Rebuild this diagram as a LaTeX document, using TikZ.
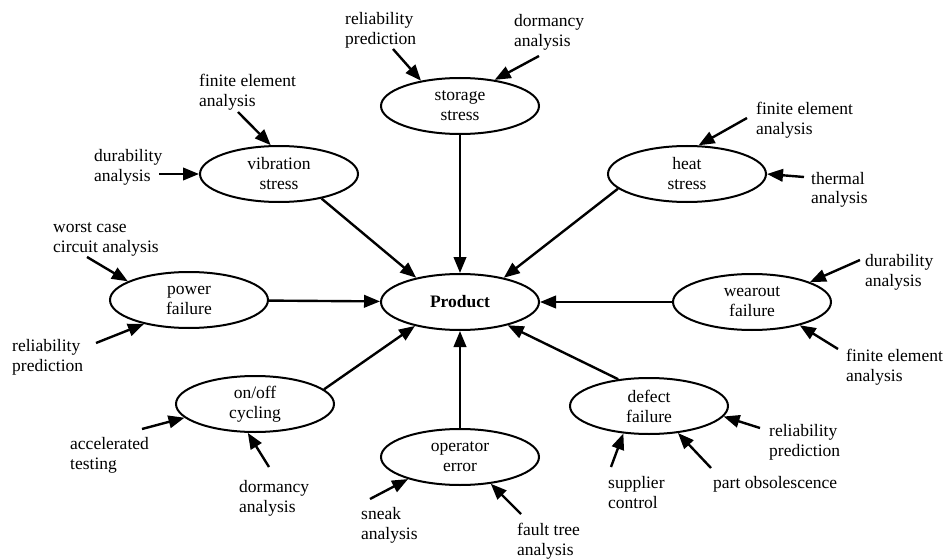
\documentclass[tikz,border=0pt]{standalone}
\usepackage{fontspec}
\setmainfont{Liberation Serif}
\usetikzlibrary{shapes.geometric,arrows.meta}
\tikzset{
  txt/.style={font=\fontsize{17.5}{20}\selectfont},
  cause/.style={txt, ellipse, draw, line width=2pt, minimum width=158pt,
    minimum height=56pt, inner sep=0pt, align=center},
  tech/.style={txt, anchor=base west, inner sep=0pt, align=left},
  link/.style={line width=2.4pt, -{Triangle[length=16pt,width=12.5pt]}}
}
\begin{document}
\begin{tikzpicture}[x=1pt,y=-1pt]
\useasboundingbox (0,0) rectangle (948,559);

% hazards and the product
\node[cause] (product)  at (460,302) {\textbf{Product}};
\node[cause] (storage)  at (460,106) {storage\\stress};
\node[cause] (vibration) at (279,174) {vibration\\stress};
\node[cause] (heat)     at (687,174) {heat\\stress};
\node[cause] (power)    at (189,300) {power\\failure};
\node[cause] (wearout)  at (752,302) {wearout\\failure};
\node[cause] (onoff)    at (255,404) {on/off\\cycling};
\node[cause] (operator) at (460,457) {operator\\error};
\node[cause] (defect)   at (649,406) {defect\\failure};

% analysis techniques (placed by the baseline of their last line)
\node[tech] (rpTop)    at (345,45)  {reliability\\prediction};
\node[tech] (dormTop)  at (514,47)  {dormancy\\analysis};
\node[tech] (feaVib)   at (199,107) {finite element\\analysis};
\node[tech] (durLeft)  at (94,182)  {durability\\analysis};
\node[tech] (worst)    at (53,252)  {worst case\\circuit analysis};
\node[tech] (rpLeft)   at (12,371)  {reliability\\prediction};
\node[tech] (accel)    at (70,469)  {accelerated\\testing};
\node[tech] (dormBot)  at (239,512) {dormancy\\analysis};
\node[tech] (sneak)    at (361,539) {sneak\\analysis};
\node[tech] (fault)    at (517,555) {fault tree\\analysis};
\node[tech] (supplier) at (608,508) {supplier\\control};
\node[tech] (obsol)    at (713,488) {part obsolescence};
\node[tech] (rpDef)    at (769,456) {reliability\\prediction};
\node[tech] (feaWear)  at (846,381) {finite element\\analysis};
\node[tech] (durRight) at (865,286) {durability\\analysis};
\node[tech] (thermal)  at (811,204) {thermal\\analysis};
\node[tech] (feaHeat)  at (756,135) {finite element\\analysis};

% arrow tails next to the technique labels
\coordinate (tRpTop)    at (393,49);
\coordinate (tDormTop)  at (539,56);
\coordinate (tFeaVib)   at (238,112);
\coordinate (tDurLeft)  at (159,174);
\coordinate (tWorst)    at (87,257);
\coordinate (tRpLeft)   at (96,343);
\coordinate (tAccel)    at (142,429);
\coordinate (tDormBot)  at (269,467);
\coordinate (tSneak)    at (370,499);
\coordinate (tFault)    at (521,514);
\coordinate (tSupplier) at (611,467);
\coordinate (tObsol)    at (711,468);
\coordinate (tRpDef)    at (760,428);
\coordinate (tFeaWear)  at (838,349);
\coordinate (tDurRight) at (860,260);
\coordinate (tThermal)  at (804,177);
\coordinate (tFeaHeat)  at (747,118);

% techniques -> hazards
\draw[link] (tRpTop)    -- (storage.147);
\draw[link] (tDormTop)  -- (storage.37);
\draw[link] (tFeaVib)   -- (vibration.106);
\draw[link] (tDurLeft)  -- (vibration.west);
\draw[link] (tWorst)    -- (power.163);
\draw[link] (tRpLeft)   -- (power.208);
\draw[link] (tAccel)    -- (onoff.191);
\draw[link] (tDormBot)  -- (onoff.256);
\draw[link] (tSneak)    -- (operator.203);
\draw[link] (tFault)    -- (operator.-41);
\draw[link] (tSupplier) -- (defect.227);
\draw[link] (tObsol)    -- (defect.-43);
\draw[link] (tRpDef)    -- (defect.-8);
\draw[link] (tFeaWear)  -- (wearout.-26);
\draw[link] (tDurRight) -- (wearout.19);
\draw[link] (tThermal)  -- (heat.east);
\draw[link] (tFeaHeat)  -- (heat.68);

% hazards -> product
\draw[link] (power)         -- (product);
\draw[link] (wearout)       -- (product);
\draw[link] (storage.south) -- (product.north);
\draw[link] (operator.north)-- (product.south);
\draw[link] (vibration.-30) -- (product.151);
\draw[link] (heat.192)      -- (product.29);
\draw[link] (defect.139)    -- (product.334);
\draw[link] (onoff.12)      -- (product.208);
\end{tikzpicture}
\end{document}
